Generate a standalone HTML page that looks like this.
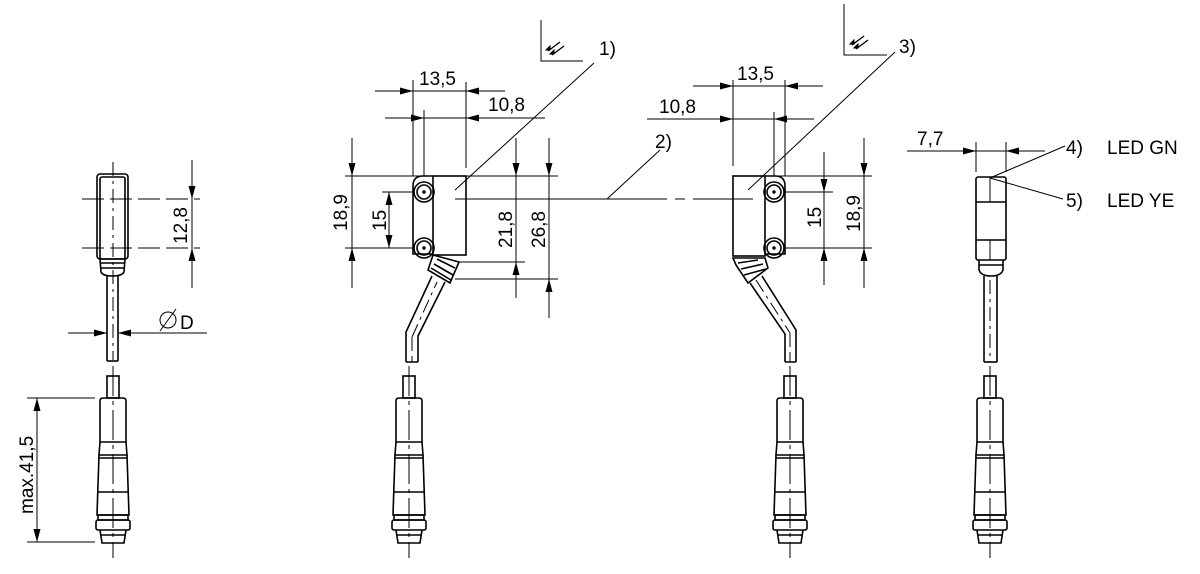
<!DOCTYPE html>
<html><head><meta charset="utf-8"><style>
html,body{margin:0;padding:0;background:#fff;}
svg{display:block;}
text{font-family:"Liberation Sans",sans-serif;font-size:19px;fill:#000;}
</style></head><body>
<svg width="1200" height="574" viewBox="0 0 1200 574" xmlns="http://www.w3.org/2000/svg">
<defs>
<marker id="a" markerWidth="13" markerHeight="7" refX="13" refY="3.5" orient="auto" markerUnits="userSpaceOnUse"><path d="M0,0 L13,3.5 L0,7z" fill="#000"/></marker>
<g id="conn" fill="none" stroke="#000" stroke-width="1.6">
<rect x="-6" y="376" width="12" height="22"/>
<path d="M-13,401 Q-13,398 -10,398 L10,398 Q13,398 13,401 L13,442 L-13,442 Z"/>
<path d="M-13,442 L-14,455 L14,455 L13,442"/>
<line x1="-14" y1="458" x2="14" y2="458"/>
<path d="M-14,455 L-16,515 L16,515 L14,455"/>
<line x1="-16" y1="492" x2="16" y2="492"/>
<rect x="-15" y="515" width="30" height="5"/>
<rect x="-17" y="520" width="34" height="10" rx="2"/>
<path d="M-13,530 L-11,543 L11,543 L13,530"/>
<line x1="-13" y1="535" x2="13" y2="535"/>
<line x1="0" y1="366" x2="0" y2="558" stroke-width="1" stroke-dasharray="30,5,4,5"/>
</g>
</defs>

<g stroke="#000" stroke-width="1" fill="none">
<use href="#conn" x="113"/>
<use href="#conn" x="409"/>
<use href="#conn" x="790"/>
<use href="#conn" x="990"/>

<!-- LEFT VIEW -->
<g stroke-width="1.6">
<rect x="97" y="174" width="31" height="85" rx="3"/>
<rect x="100" y="177" width="25" height="82" rx="2"/>
<path d="M100,259 L101,272 Q103,276 112,276 Q122,276 124,272 L125,259"/>
<line x1="100" y1="263" x2="125" y2="263"/><line x1="101" y1="268" x2="124" y2="268"/>
<line x1="107" y1="276" x2="107" y2="361"/><line x1="118" y1="276" x2="118" y2="361"/>
<line x1="107" y1="361" x2="118" y2="361"/>
</g>
<line x1="113" y1="162" x2="113" y2="360" stroke-dasharray="14,5,3,5"/>
<line x1="82" y1="199" x2="200" y2="199" stroke-dasharray="22,6"/>
<line x1="82" y1="248" x2="200" y2="248" stroke-dasharray="22,6"/>
<line x1="192" y1="160" x2="192" y2="199" marker-end="url(#a)"/>
<line x1="192" y1="199" x2="192" y2="248"/>
<line x1="192" y1="288" x2="192" y2="248" marker-end="url(#a)"/>
<line x1="68" y1="333" x2="107" y2="333" marker-end="url(#a)"/>
<line x1="207" y1="333" x2="118" y2="333" marker-end="url(#a)"/>
<circle cx="168" cy="320" r="8"/><line x1="160" y1="331" x2="176" y2="309"/>
<line x1="27" y1="398" x2="95" y2="398"/><line x1="27" y1="542" x2="95" y2="542"/>
<line x1="37" y1="470" x2="37" y2="398" marker-end="url(#a)"/>
<line x1="37" y1="470" x2="37" y2="542" marker-end="url(#a)"/>

<!-- MIDDLE-LEFT SENSOR -->
<g stroke-width="1.6">
<rect x="433" y="176" width="33" height="79"/>
<path d="M413,186 L413,254 L433,254 M413,186 Q413,176 423,176 L433,176"/>
<circle cx="424" cy="192" r="10"/><circle cx="424" cy="192" r="7"/>
<circle cx="424" cy="248" r="10"/><circle cx="424" cy="248" r="7"/>
<path d="M433,255 L459,262 L450,283 L428,270 Z"/>
<line x1="437" y1="259" x2="455" y2="268"/><line x1="434" y1="264" x2="453" y2="275"/><line x1="431" y1="268" x2="451" y2="280"/>
<path d="M432,276 L406,332 L406,362 M445,282 L418,336 L418,362 M406,362 L418,362"/>
</g>
<circle cx="424" cy="192" r="1.2" fill="#000"/><circle cx="424" cy="248" r="1.2" fill="#000"/>
<line x1="412" y1="337" x2="437" y2="282" stroke-dasharray="14,5,3,5"/>
<line x1="412" y1="337" x2="412" y2="362" stroke-dasharray="14,5"/>
<line x1="413" y1="80" x2="413" y2="176"/><line x1="466" y1="82" x2="466" y2="168"/>
<line x1="424" y1="110" x2="424" y2="176"/>
<line x1="375" y1="91" x2="413" y2="91" marker-end="url(#a)"/><line x1="413" y1="91" x2="466" y2="91"/>
<line x1="505" y1="91" x2="466" y2="91" marker-end="url(#a)"/>
<line x1="385" y1="118" x2="424" y2="118" marker-end="url(#a)"/><line x1="424" y1="118" x2="466" y2="118"/>
<line x1="545" y1="118" x2="466" y2="118" marker-end="url(#a)"/>
<line x1="345" y1="176" x2="558" y2="176"/>
<line x1="345" y1="248" x2="413" y2="248"/>
<line x1="382" y1="192" x2="413" y2="192"/>
<line x1="458" y1="262" x2="525" y2="262"/>
<line x1="455" y1="279" x2="558" y2="279"/>
<line x1="352" y1="138" x2="352" y2="176" marker-end="url(#a)"/><line x1="352" y1="176" x2="352" y2="248"/>
<line x1="352" y1="288" x2="352" y2="248" marker-end="url(#a)"/>
<line x1="389" y1="220" x2="389" y2="192" marker-end="url(#a)"/><line x1="389" y1="220" x2="389" y2="248" marker-end="url(#a)"/>
<line x1="516" y1="138" x2="516" y2="176" marker-end="url(#a)"/><line x1="516" y1="176" x2="516" y2="262"/>
<line x1="516" y1="298" x2="516" y2="262" marker-end="url(#a)"/>
<line x1="549" y1="138" x2="549" y2="176" marker-end="url(#a)"/><line x1="549" y1="176" x2="549" y2="279"/>
<line x1="549" y1="318" x2="549" y2="279" marker-end="url(#a)"/>
<line x1="455" y1="199" x2="607" y2="199"/>
<line x1="607" y1="199" x2="760" y2="199" stroke-dasharray="60,8,10,8"/>
<line x1="607" y1="199" x2="660" y2="150"/>
<line x1="455" y1="190" x2="594" y2="63"/>
<path d="M541,20 L541,61 L583,61"/>
<g stroke-width="1.4"><line x1="548" y1="51" x2="560" y2="42"/><line x1="552" y1="55" x2="564" y2="46"/></g>
<path d="M546,50 L550,46 L550,50z M550,54 L554,50 L554,54z" fill="#000"/>

<!-- MIDDLE-RIGHT SENSOR -->
<g stroke-width="1.6">
<rect x="733" y="176" width="32" height="80"/>
<path d="M785,186 L785,254 L765,254 M785,186 Q785,176 775,176 L765,176"/>
<circle cx="774" cy="192" r="10"/><circle cx="774" cy="192" r="7"/>
<circle cx="774" cy="248" r="10"/><circle cx="774" cy="248" r="7"/>
<path d="M733,258 L765,258 L768,268 L748,283 L736,265 Z"/>
<line x1="738" y1="263" x2="758" y2="260"/><line x1="741" y1="269" x2="763" y2="264"/><line x1="744" y1="275" x2="766" y2="269"/>
<path d="M750,283 L785,334 L785,362 M762,276 L796,330 L796,362 M785,362 L796,362"/>
</g>
<circle cx="774" cy="192" r="1.2" fill="#000"/><circle cx="774" cy="248" r="1.2" fill="#000"/>
<line x1="756" y1="280" x2="790" y2="333" stroke-dasharray="14,5,3,5"/>
<line x1="790" y1="333" x2="790" y2="362" stroke-dasharray="14,5"/>
<line x1="733" y1="80" x2="733" y2="166"/><line x1="785" y1="80" x2="785" y2="176"/>
<line x1="774" y1="112" x2="774" y2="176"/>
<line x1="693" y1="86" x2="733" y2="86" marker-end="url(#a)"/><line x1="733" y1="86" x2="785" y2="86"/>
<line x1="823" y1="86" x2="785" y2="86" marker-end="url(#a)"/>
<line x1="647" y1="119" x2="733" y2="119" marker-end="url(#a)"/><line x1="733" y1="119" x2="774" y2="119"/>
<line x1="814" y1="119" x2="774" y2="119" marker-end="url(#a)"/>
<line x1="765" y1="176" x2="872" y2="176"/>
<line x1="785" y1="192" x2="833" y2="192"/>
<line x1="785" y1="248" x2="872" y2="248"/>
<line x1="824" y1="152" x2="824" y2="192" marker-end="url(#a)"/><line x1="824" y1="192" x2="824" y2="248"/>
<line x1="824" y1="285" x2="824" y2="248" marker-end="url(#a)"/>
<line x1="864" y1="138" x2="864" y2="176" marker-end="url(#a)"/><line x1="864" y1="176" x2="864" y2="248"/>
<line x1="864" y1="288" x2="864" y2="248" marker-end="url(#a)"/>
<line x1="748" y1="190" x2="895" y2="52"/>
<path d="M844,4 L844,55 L887,55"/>
<g stroke-width="1.4"><line x1="852" y1="45" x2="864" y2="36"/><line x1="856" y1="49" x2="868" y2="40"/></g>
<path d="M850,44 L854,40 L854,44z M854,48 L858,44 L858,48z" fill="#000"/>

<!-- RIGHT VIEW -->
<g stroke-width="1.6">
<rect x="976" y="177" width="30" height="83" rx="2"/>
<line x1="976" y1="202" x2="1006" y2="202"/><line x1="976" y1="240" x2="1006" y2="240"/>
<path d="M979,260 L979,270 Q981,276 991,276 Q1001,276 1003,270 L1003,260"/>
<line x1="979" y1="265" x2="1003" y2="265"/>
<line x1="984" y1="276" x2="984" y2="362"/><line x1="997" y1="276" x2="997" y2="362"/>
<line x1="984" y1="362" x2="997" y2="362"/>
</g>
<line x1="990" y1="177" x2="990" y2="202"/><line x1="990" y1="240" x2="990" y2="260"/>
<line x1="990" y1="280" x2="990" y2="362" stroke-dasharray="14,5,3,5"/>
<line x1="976" y1="142" x2="976" y2="172"/><line x1="1006" y1="142" x2="1006" y2="172"/>
<line x1="907" y1="151" x2="976" y2="151" marker-end="url(#a)"/><line x1="976" y1="151" x2="1006" y2="151"/>
<line x1="1045" y1="151" x2="1006" y2="151" marker-end="url(#a)"/>
<line x1="990" y1="178" x2="1065" y2="146"/>
<line x1="990" y1="178" x2="1063" y2="199"/>
</g>

<text transform="translate(187,244) rotate(-90)">12,8</text>
<text x="180" y="329">D</text>
<text transform="translate(33,514) rotate(-90)">max.41,5</text>
<text x="419" y="85">13,5</text>
<text x="488" y="111">10,8</text>
<text transform="translate(347,231) rotate(-90)">18,9</text>
<text transform="translate(386,231) rotate(-90)">15</text>
<text transform="translate(512,248) rotate(-90)">21,8</text>
<text transform="translate(545,248) rotate(-90)">26,8</text>
<text x="599" y="55">1)</text>
<text x="655" y="148">2)</text>
<text x="899" y="53">3)</text>
<text x="737" y="80">13,5</text>
<text x="659" y="113">10,8</text>
<text transform="translate(821,228) rotate(-90)">15</text>
<text transform="translate(860,232) rotate(-90)">18,9</text>
<text x="917" y="145">7,7</text>
<text x="1066" y="154">4)</text>
<text x="1107" y="154">LED GN</text>
<text x="1066" y="207">5)</text>
<text x="1107" y="207">LED YE</text>
</svg>
</body></html>
